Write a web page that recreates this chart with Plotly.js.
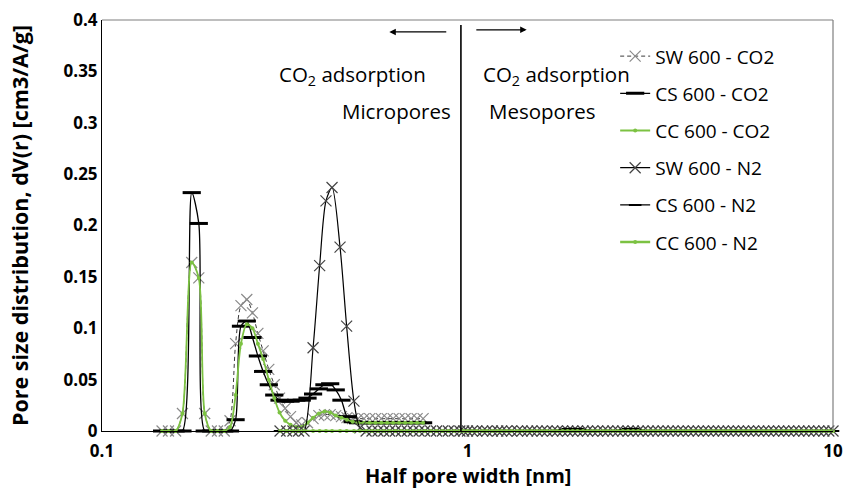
<!DOCTYPE html>
<html>
<head>
<meta charset="utf-8">
<script src="https://cdn.plot.ly/plotly-3.0.1.min.js"></script>
<style>html,body{margin:0;padding:0;background:#fff;}#chart{width:845px;height:489px;}</style>
</head>
<body>
<div id="chart"></div>
<script>
// ---- data (half pore width in nm, dV(r) in cm3/A/g) ----
const co2Width = [0.146,0.152,0.159,0.166,0.176,0.184,0.191,0.199,0.207,0.216,0.224,0.232,0.240,0.249,0.258,0.267,0.276,0.286,0.296,0.306,0.317,0.328,0.340,0.352,0.365,0.378,0.392,0.406,0.421,0.436,0.452,0.468,0.485,0.502,0.521,0.540,0.560,0.581,0.603,0.626,0.650,0.675,0.701,0.728,0.756];
const swCO2 = [0,0,0,0.017,0.164,0.149,0.017,0,0,0,0.010,0.085,0.122,0.128,0.115,0.095,0.078,0.060,0.045,0.032,0.022,0.014,0.008,0.006,0.008,0.012,0.015,0.016,0.016,0.015,0.014,0.013,0.012,0.012,0.012,0.012,0.012,0.012,0.012,0.012,0.012,0.012,0.012,0.012,0.012];
const csCO2 = [0,0,0,0,0.232,0.202,0,0,0,0,0,0.011,0.102,0.107,0.091,0.073,0.058,0.045,0.035,0.030,0.029,0.029,0.030,0.030,0.032,0.036,0.041,0.045,0.046,0.040,0.030,0.014,0.009,0.008,0.008,0.008,0.008,0.008,0.008,0.008,0.008,0.008,0.008,0.008,0.008];
const ccCO2 = [0,0,0,0.017,0.164,0.149,0.017,0,0,0,0.004,0.035,0.085,0.104,0.100,0.085,0.070,0.050,0.032,0.018,0.010,0.006,0.004,0.004,0.008,0.013,0.017,0.019,0.018,0.015,0.013,0.011,0.009,0.008,0.008,0.008,0.008,0.008,0.008,0.008,0.008,0.008,0.008,0.008,0.008];

const n2Width = [0.307,0.320,0.333,0.345,0.357,0.378,0.394,0.410,0.426,0.448,0.467,0.489,0.508,0.528,0.548,0.569,0.590,0.612,0.635,0.659,0.684,0.710,0.737,0.764,0.793,0.823,0.854,0.886,0.919,0.953,0.976,
 1.00,1.03,1.06,1.10,1.13,1.17,1.21,1.24,1.28,1.32,1.37,1.41,1.46,1.50,1.55,1.60,1.65,1.71,1.76,1.82,1.88,1.94,2.00,2.07,2.13,2.20,2.27,2.35,2.42,2.50,2.58,2.66,2.75,2.84,2.93,3.02,3.12,3.22,3.32,3.43,3.54,3.65,3.77,3.89,4.02,4.15,4.28,4.42,4.56,4.71,4.86,5.01,5.17,5.34,5.51,5.69,5.87,6.06,6.26,6.46,6.66,6.88,7.10,7.33,7.56,7.81,8.06,8.32,8.58,8.86,9.14,9.44,9.74,10.0];
const swN2 = [0,0,0,0,0,0.081,0.161,0.224,0.237,0.179,0.102,0.029,0.003,0,0,0,0,0,0,0,0,0,0,0,0,0,0,0,0,0,0,
 0,0,0,0,0,0,0,0,0,0,0,0,0,0,0,0,0,0,0,0,0,0,0,0,0,0,0,0,0,0,0,0,0,0,0,0,0,0,0,0,0,0,0,0,0,0,0,0,0,0,0,0,0,0,0,0,0,0,0,0,0,0,0,0,0,0,0,0,0,0,0,0,0,0];
const csN2 = [0,0,0,0,0,0,0,0,0,0,0,0,0,0,0,0,0,0,0,0,0,0,0,0,0,0,0,0,0,0,0,
 0,0,0,0,0,0,0,0,0,0,0,0,0,0,0,0,0,0,0,0.001,0.002,0.002,0.002,0.001,0,0,0,0,0,0,0,0.001,0.002,0.002,0.001,0,0,0,0,0,0,0,0,0,0,0,0,0,0,0,0,0,0,0,0,0,0,0,0,0,0,0,0,0,0,0,0,0,0,0,0,0,0,0];
const ccN2 = [0,0,0,0,0,0,0,0,0,0,0,0,0,0,0,0,0,0,0,0,0,0,0,0,0,0,0,0,0,0,0,
 0,0,0,0,0,0,0,0,0,0,0,0,0,0,0,0,0,0,0,0,0,0,0,0,0,0,0,0,0,0,0,0,0,0,0,0,0,0,0,0,0,0,0,0,0,0,0,0,0,0,0,0,0,0,0,0,0,0,0,0,0,0,0,0,0,0,0,0,0,0,0,0,0,0];

const seriesNames = ['SW 600 - CO2','CS 600 - CO2','CC 600 - CO2','SW 600 - N2','CS 600 - N2','CC 600 - N2'];
const yTickVals = [0,0.05,0.1,0.15,0.2,0.25,0.3,0.35,0.4];
const yTickText = ['0','0.05','0.1','0.15','0.2','0.25','0.3','0.35','0.4'];
const xTickVals = [0.1,1,10];
const xTickText = ['0.1','1','10'];
const xTitle = 'Half pore width [nm]';
const yTitle = 'Pore size distribution, dV(r) [cm3/A/g]';

const GREEN = '#7cc242';
const FONT = 'Open Sans, Noto Sans, sans-serif';

function tr(x, y, i, line, marker){
  return {x:x, y:y, name:seriesNames[i], type:'scatter', mode:'lines+markers',
    line:Object.assign({shape:'spline', smoothing:0.8}, line), marker:marker,
    legendgroup:'g'+i, cliponaxis:false};
}

const traces = [
  tr(co2Width, swCO2, 0, {color:'#3a3a3a', width:1, dash:'4px,3px'}, {symbol:'x-thin', size:11, line:{color:'#8a8a8a', width:1.2}}),
  tr(co2Width, csCO2, 1, {color:'#000', width:1.3}, {symbol:'line-ew', size:13, line:{color:'#000', width:3}}),
  tr(co2Width, ccCO2, 2, {color:GREEN, width:1.8}, {symbol:'circle', size:4, color:GREEN}),
  tr(n2Width, swN2, 3, {color:'#000', width:1.2}, {symbol:'x-thin', size:11, line:{color:'#444', width:1.2}}),
  tr(n2Width, csN2, 4, {color:'#000', width:1.3}, {symbol:'line-ew', size:9, line:{color:'#000', width:2}}),
  tr(n2Width, ccN2, 5, {color:GREEN, width:2.5}, {symbol:'circle', size:4, color:GREEN})
];

const layout = {
  width:845, height:489,
  margin:{l:102, r:12, t:20, b:58},
  paper_bgcolor:'#fff', plot_bgcolor:'#fff',
  font:{family:FONT, color:'#000'},
  showlegend:true,
  legend:{x:0.702, y:0.958, xanchor:'left', yanchor:'top', bgcolor:'rgba(0,0,0,0)',
    font:{family:FONT, size:19, color:'#000'}, traceorder:'grouped', tracegroupgap:9.5, itemwidth:30},
  xaxis:{type:'log', range:[-1,1], tickvals:xTickVals, ticktext:xTickText, showgrid:false, zeroline:false,
    showline:true, linecolor:'#000', linewidth:1, ticks:'', ticklabelstandoff:5, tickfont:{family:FONT, size:17, weight:'bold'}},
  yaxis:{range:[0,0.4], tickvals:yTickVals, ticktext:yTickText, showgrid:false, zeroline:false,
    showline:true, linecolor:'#000', linewidth:1, ticks:'', ticklen:0, tickfont:{family:FONT, size:17, weight:'bold'},
    title:{text:yTitle, font:{family:FONT, size:21.5, weight:'bold'}, standoff:29}},
  shapes:[
    {type:'line', xref:'paper', yref:'paper', x0:0, x1:1, y0:1, y1:1, line:{color:'#7f7f7f', width:1.2}},
    {type:'line', xref:'paper', yref:'paper', x0:1, x1:1, y0:0, y1:1, line:{color:'#7f7f7f', width:1.2}},
    {type:'line', xref:'paper', yref:'paper', x0:0.491, x1:0.491, y0:0, y1:0.988, line:{color:'#000', width:1.6}}
  ],
  annotations:[
    {xref:'paper', yref:'paper', x:0.5, y:-0.109, yanchor:'middle', text:xTitle, showarrow:false, font:{family:FONT, size:20, weight:'bold', color:'#000'}},
    {xref:'paper', yref:'paper', x:0.393, y:0.971, ax:0.473, ay:0.971, axref:'paper', ayref:'paper', text:'', showarrow:true, arrowhead:2, arrowsize:1, arrowwidth:1.3, arrowcolor:'#000'},
    {xref:'paper', yref:'paper', x:0.581, y:0.976, ax:0.510, ay:0.976, axref:'paper', ayref:'paper', text:'', showarrow:true, arrowhead:2, arrowsize:1, arrowwidth:1.3, arrowcolor:'#000'},
    {xref:'paper', yref:'paper', x:0.342, y:0.9075, text:'CO<sub>2</sub> adsorption', showarrow:false, font:{family:FONT, size:20.5, color:'#000'}},
    {xref:'paper', yref:'paper', x:0.326, y:0.8175, text:'Micropores', showarrow:false, font:{family:FONT, size:20.5, color:'#000'}},
    {xref:'paper', yref:'paper', x:0.518, y:0.9075, xanchor:'left', text:'CO<sub>2</sub> adsorption', showarrow:false, font:{family:FONT, size:20.5, color:'#000'}},
    {xref:'paper', yref:'paper', x:0.526, y:0.8175, xanchor:'left', text:'Mesopores', showarrow:false, font:{family:FONT, size:20.5, color:'#000'}}
  ]
};

Plotly.newPlot('chart', traces, layout, {displayModeBar:false, staticPlot:true});
</script>
</body>
</html>
